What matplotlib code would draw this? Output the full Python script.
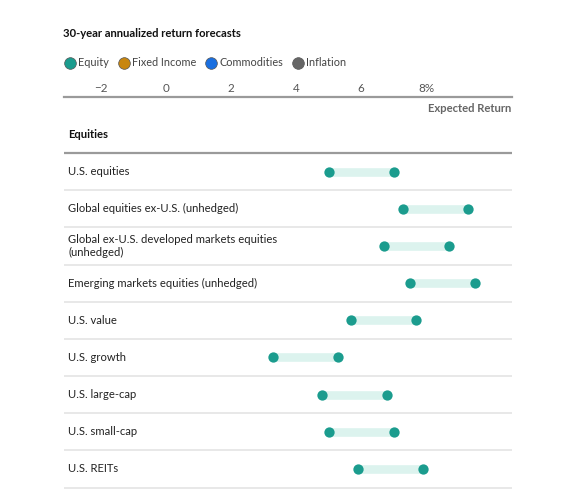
import matplotlib
matplotlib.use("Agg")
import matplotlib.pyplot as plt
from matplotlib.lines import Line2D

plt.rcParams['font.family'] = ['Lato', 'DejaVu Sans']

# data
assets = [
    "U.S. equities",
    "Global equities ex-U.S. (unhedged)",
    "Global ex-U.S. developed markets equities\n(unhedged)",
    "Emerging markets equities (unhedged)",
    "U.S. value",
    "U.S. growth",
    "U.S. large-cap",
    "U.S. small-cap",
    "U.S. REITs",
]
low = [5.0, 7.3, 6.7, 7.5, 5.7, 3.3, 4.8, 5.0, 5.9]
high = [7.0, 9.3, 8.7, 9.5, 7.7, 5.3, 6.8, 7.0, 7.9]
tick_vals = [-2, 0, 2, 4, 6, 8]
tick_labels = ["\u22122", "0", "2", "4", "6", "8%"]
legend_names = ["Equity", "Fixed Income", "Commodities", "Inflation"]
legend_colors = ["#1b9c8e", "#c8860f", "#1a6fe0", "#666666"]

teal = "#1b9c8e"
band = "#dcf3ee"
fs = 8.1

W, H = 562, 500
fig = plt.figure(figsize=(W / 100, H / 100), dpi=100)

# main axes: top spine is the grey scale line
ax_top = 97
ax = fig.add_axes([64 / W, 0, (512 - 64) / W, (H - ax_top) / H])
ax.set_xlim((64 - 166) / 32.5, (512 - 166) / 32.5)
ax.set_ylim(H, ax_top)
for s in ["left", "right", "bottom"]:
    ax.spines[s].set_visible(False)
ax.spines["top"].set_color("#9a9a9a")
ax.spines["top"].set_linewidth(1.6)
ax.set_yticks([])
ax.xaxis.tick_top()
ax.set_xticks(tick_vals)
ax.set_xticklabels(tick_labels, fontsize=fs + 0.3, color="#555555")
ax.tick_params(axis="x", length=0, pad=2.5)

# section header
ax.text(0.009, 135, "Equities", transform=ax.get_yaxis_transform(),
        fontsize=fs, fontweight="bold", va="center", ha="left", color="#111111")
ax.axhline(152.7, color="#9a9a9a", lw=1.6)

row0, step = 171.7, 37.15
for i, name in enumerate(assets):
    y = row0 + step * i
    ax.text(0.009, y, name, transform=ax.get_yaxis_transform(), fontsize=fs,
            va="center", ha="left", color="#222222", linespacing=1.3)
    ax.hlines(y, low[i], high[i], color=band, lw=6.2, capstyle="butt", zorder=2)
    ax.scatter([low[i], high[i]], [y, y], s=55, color=teal, zorder=3, linewidths=0)
    ax.axhline(y + 18.6, color="#e8e8e8", lw=1.4, zorder=1)

# title, legend, axis label
fig.text(63 / W, 1 - 33 / H, "30-year annualized return forecasts",
         fontsize=fs, fontweight="bold", va="center", ha="left", color="#111111")

renderer = fig.canvas.get_renderer()
x = 64.5
leg_y = 1 - 62.7 / H
for name, c in zip(legend_names, legend_colors):
    fig.add_artist(Line2D([(x + 5.6) / W], [leg_y], marker="o", ls="", markersize=8.4,
                          markerfacecolor=c, markeredgecolor="#555555",
                          markeredgewidth=0.5, transform=fig.transFigure))
    t = fig.text((x + 13.5) / W, leg_y, name, fontsize=7.8, va="center",
                 ha="left", color="#444444")
    x = x + 13.5 + t.get_window_extent(renderer).width + 9.5

fig.text(511 / W, 1 - 109 / H, "Expected Return", fontsize=fs, fontweight="bold",
         va="center", ha="right", color="#666666")

fig.savefig("out.png", dpi=100)
